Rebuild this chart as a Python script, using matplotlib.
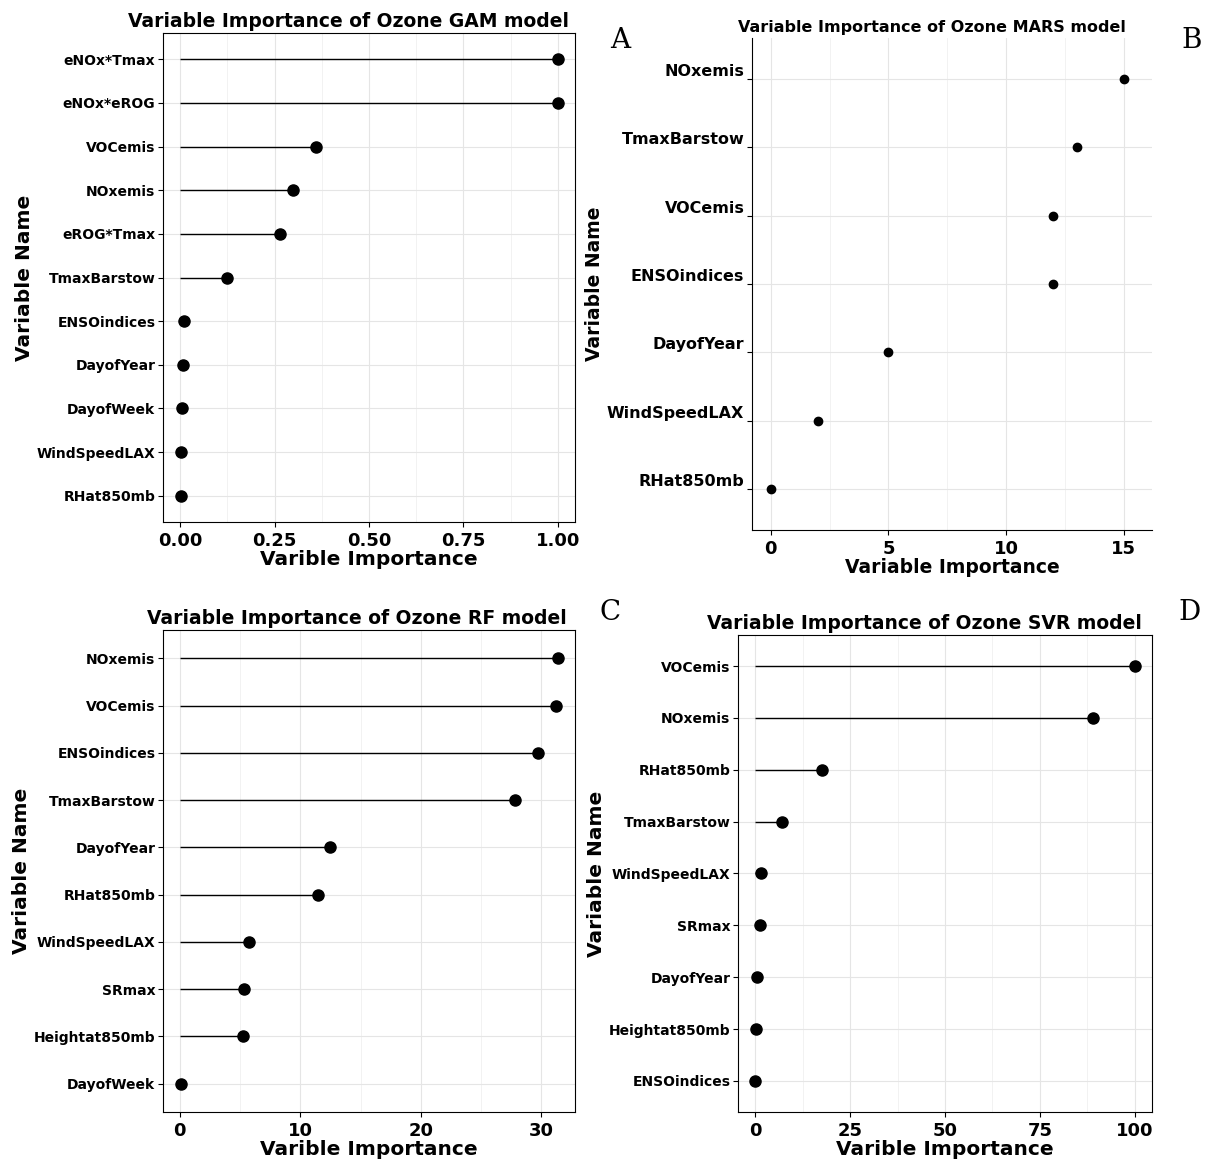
import matplotlib
matplotlib.use("Agg")
import matplotlib.pyplot as plt

gam_names = ["eNOx*Tmax", "eNOx*eROG", "VOCemis", "NOxemis", "eROG*Tmax", "TmaxBarstow",
             "ENSOindices", "DayofYear", "DayofWeek", "WindSpeedLAX", "RHat850mb"]
gam_vals = [1.0, 1.0, 0.36, 0.30, 0.265, 0.125, 0.01, 0.008, 0.005, 0.003, 0.003]

mars_names = ["NOxemis", "TmaxBarstow", "VOCemis", "ENSOindices", "DayofYear", "WindSpeedLAX", "RHat850mb"]
mars_vals = [15, 13, 12, 12, 5, 2, 0]

rf_names = ["NOxemis", "VOCemis", "ENSOindices", "TmaxBarstow", "DayofYear", "RHat850mb",
            "WindSpeedLAX", "SRmax", "Heightat850mb", "DayofWeek"]
rf_vals = [31.4, 31.2, 29.7, 27.8, 12.5, 11.5, 5.75, 5.3, 5.25, 0.1]

svr_names = ["VOCemis", "NOxemis", "RHat850mb", "TmaxBarstow", "WindSpeedLAX", "SRmax",
             "DayofYear", "Heightat850mb", "ENSOindices"]
svr_vals = [100, 89, 17.5, 7, 1.5, 1.2, 0.5, 0.3, 0.1]

W, H = 1206, 1169
fig = plt.figure(figsize=(W / 100, H / 100), dpi=100)


def box(x0, y0, x1, y1):
    return [x0 / W, 1 - y1 / H, (x1 - x0) / W, (y1 - y0) / H]


def panel(rect, names, vals, title, xlabel, xticks, xlim, stems=True, frame=True,
          tsize=13.5, lsize=14.5, ms=8, ylab_size=10):
    ax = fig.add_axes(box(*rect))
    n = len(names)
    ys = list(range(n - 1, -1, -1))
    if stems:
        ax.hlines(ys, 0, vals, color="black", lw=1)
    ax.plot(vals, ys, "o", color="black", ms=ms)
    ax.set_yticks(ys)
    ax.set_yticklabels(names, fontsize=ylab_size, fontweight="bold")
    ax.set_ylim(-0.6, n - 0.4)
    ax.set_xticks(xticks)
    ax.set_xlim(*xlim)
    ax.tick_params(axis="x", labelsize=13)
    ax.tick_params(axis="y", pad=2)
    for lab in ax.get_xticklabels():
        lab.set_fontweight("bold")
    ax.grid(True, color="#e5e5e5", lw=0.8)
    minor = [(a + b) / 2 for a, b in zip(xticks[:-1], xticks[1:])]
    ax.set_xticks(minor, minor=True)
    ax.grid(True, which="minor", axis="x", color="#f0f0f0", lw=0.6)
    ax.tick_params(which="minor", length=0)
    ax.set_axisbelow(True)
    ax.set_title(title, fontsize=tsize, fontweight="bold", pad=4)
    ax.set_xlabel(xlabel, fontsize=lsize, fontweight="bold", labelpad=0)
    ax.set_ylabel("Variable Name", fontsize=lsize, fontweight="bold", labelpad=2)
    if not frame:
        ax.spines["top"].set_visible(False)
        ax.spines["right"].set_visible(False)
    return ax


ax = panel((163, 33, 575, 522), gam_names, gam_vals, "Variable Importance of Ozone GAM model",
           "Varible Importance", [0, 0.25, 0.5, 0.75, 1.0], (-0.045, 1.045))
ax.set_xticklabels(["0.00", "0.25", "0.50", "0.75", "1.00"], fontweight="bold")
ax.title.set_position((0.45, 1))
mars_ax = panel((752, 38, 1152, 530), mars_names, mars_vals, "Variable Importance of Ozone MARS model",
                "Variable Importance", [0, 5, 10, 15], (-0.8, 16.2), stems=False, frame=False,
                tsize=11.5, lsize=13.5, ms=6, ylab_size=11.5)
mars_ax.title.set_position((0.45, 1))
for lab in mars_ax.get_yticklabels():
    lab.set_verticalalignment("bottom")
ax = panel((163, 630, 575, 1112), rf_names, rf_vals, "Variable Importance of Ozone RF model",
           "Varible Importance", [0, 10, 20, 30], (-1.4, 32.8))
ax.title.set_position((0.47, 1))
ax = panel((738, 635, 1152, 1112), svr_names, svr_vals, "Variable Importance of Ozone SVR model",
           "Varible Importance", [0, 25, 50, 75, 100], (-4.5, 104.5))
ax.title.set_position((0.45, 1))

for letter, x, y in [("A", 620, 40), ("B", 1192, 40), ("C", 610, 612), ("D", 1190, 612)]:
    fig.text(x / W, 1 - y / H, letter, fontsize=20, family="DejaVu Serif", ha="center", va="center")

fig.savefig("out.png", dpi=100)
